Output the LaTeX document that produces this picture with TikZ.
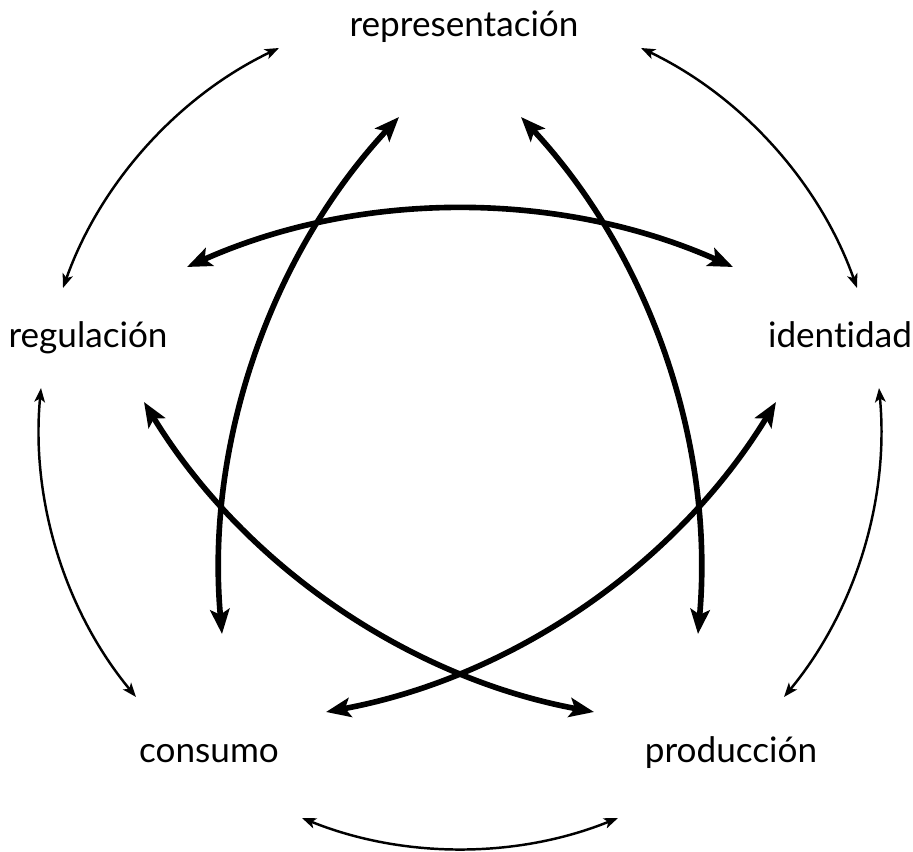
\documentclass[tikz,border=0pt]{standalone}
\usepackage{fontspec}
\setmainfont{Lato}[Ligatures=NoCommon]
\usetikzlibrary{arrows.meta}
\begin{document}
\begin{tikzpicture}[x=0.02cm, y=0.02cm]
    \tikzstyle{every node}=[font=\fontsize{20}{24}\selectfont, inner sep=0pt]
    \tikzset{
        lab/.style={anchor=base},
        arr/.style={line width=3.2pt, {Stealth[length=14pt, width=11pt, inset=3pt]}-{Stealth[length=14pt, width=11pt, inset=3pt]}, looseness=0.89},
        arr2/.style={line width=1.4pt, {Stealth[length=8pt, width=6pt, inset=2pt]}-{Stealth[length=8pt, width=6pt, inset=2pt]}, looseness=0.885}
        }
    \useasboundingbox (0,0) rectangle (913,852);

    %labels
    \node (rep) [lab] at (464,815) {representación};
    \node (reg) [lab] at (88,504) {regulación};
    \node (id) [lab] at (840,504) {identidad};
    \node (con) [lab] at (209,89) {consumo};
    \node (pro) [lab] at (731,89) {producción};

    %ends of the inner arrows
    \coordinate (rep-l) at (399,735);
    \coordinate (rep-r) at (521,735);
    \coordinate (reg-u) at (187,585);
    \coordinate (reg-d) at (144,450);
    \coordinate (id-u) at (733,585);
    \coordinate (id-d) at (776,450);
    \coordinate (con-u) at (222,218);
    \coordinate (con-r) at (326,140);
    \coordinate (pro-u) at (698,218);
    \coordinate (pro-l) at (594,140);

    %ends of the outer arrows
    \coordinate (rep-o1) at (641,804);
    \coordinate (rep-o2) at (279,804);
    \coordinate (id-o1) at (857,564);
    \coordinate (id-o2) at (879,464);
    \coordinate (pro-o1) at (784,155);
    \coordinate (pro-o2) at (618,34);
    \coordinate (con-o2) at (302,34);
    \coordinate (con-o1) at (136,155);
    \coordinate (reg-o2) at (41,464);
    \coordinate (reg-o1) at (63,564);

    %inner arrows
    \draw[arr] (rep-l) to [bend right=24] (con-u);
    \draw[arr] (rep-r) to [bend left=24] (pro-u);
    \draw[arr] (reg-u) to [bend left=24] (id-u);
    \draw[arr] (reg-d) to [bend right=24] (pro-l);
    \draw[arr] (id-d) to [bend left=24] (con-r);

    %outer arrows
    \draw[arr2] (rep-o1) to [bend left=22.5] (id-o1);
    \draw[arr2] (id-o2) to [bend left=22.5] (pro-o1);
    \draw[arr2] (pro-o2) to [bend left=22] (con-o2);
    \draw[arr2] (con-o1) to [bend left=22.5] (reg-o2);
    \draw[arr2] (reg-o1) to [bend left=22.5] (rep-o2);
\end{tikzpicture}
\end{document}
